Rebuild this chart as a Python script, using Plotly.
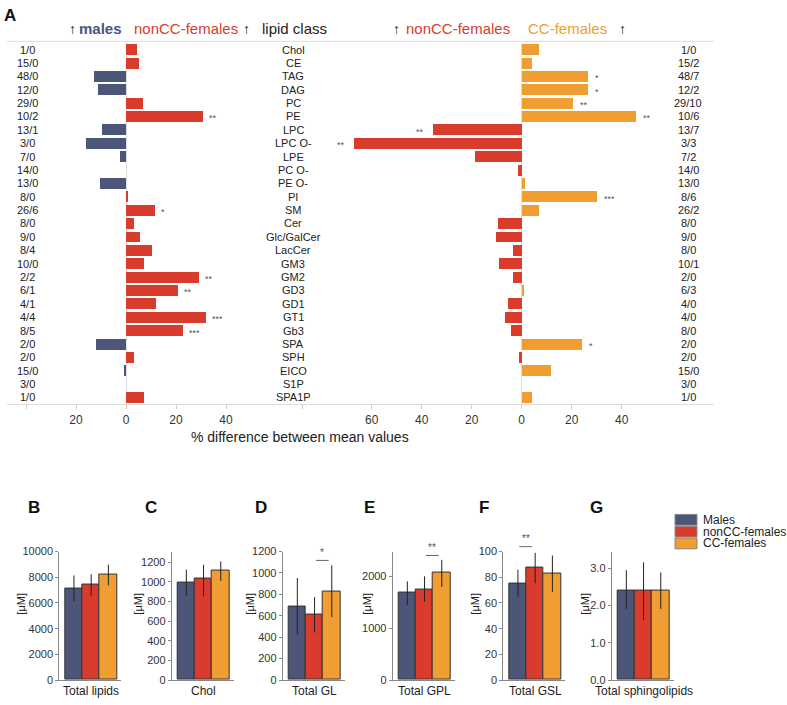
import plotly.graph_objects as go

W, H = 787, 705
def px(x): return x / W
def py(y): return 1 - y / H

C_M = "#4c5678"
C_N = "#d93c2c"
C_C = "#f09d32"
FONT = "Liberation Sans, Arial, sans-serif"

# ---------------- Panel A data ----------------
categories = ["Chol", "CE", "TAG", "DAG", "PC", "PE", "LPC", "LPC O-", "LPE", "PC O-", "PE O-", "PI", "SM",
              "Cer", "Glc/GalCer", "LacCer", "GM3", "GM2", "GD3", "GD1", "GT1", "Gb3", "SPA", "SPH", "EICO",
              "S1P", "SPA1P"]
left_counts = ["1/0", "15/0", "48/0", "12/0", "29/0", "10/2", "13/1", "3/0", "7/0", "14/0", "13/0", "8/0", "26/6",
               "8/0", "9/0", "8/4", "10/0", "2/2", "6/1", "4/1", "4/4", "8/5", "2/0", "2/0", "15/0", "3/0", "1/0"]
right_counts = ["1/0", "15/2", "48/7", "12/2", "29/10", "10/6", "13/7", "3/3", "7/2", "14/0", "13/0", "8/6", "26/2",
                "8/0", "9/0", "8/0", "10/1", "2/0", "6/3", "4/0", "4/0", "8/0", "2/0", "2/0", "15/0", "3/0", "1/0"]
# males vs nonCC-females: negative = males higher, positive = nonCC-females higher
left_diff = [4.4, 5.1, -12.7, -11.3, 6.7, 30.7, -9.7, -16.0, -2.3, 0, -10.5, 0.9, 11.6,
             3.3, 5.5, 10.3, 7.2, 29.3, 20.9, 11.9, 31.9, 22.8, -12.1, 3.1, -0.9, 0, 7.2]
left_sig = ["", "", "", "", "", "**", "", "", "", "", "", "", "*",
            "", "", "", "", "**", "**", "", "***", "***", "", "", "", "", ""]
# nonCC-females vs CC-females: negative = nonCC higher, positive = CC higher
right_diff = [7.1, 4.3, 26.7, 26.4, 20.7, 45.6, -35.5, -66.9, -18.8, -1.5, 1.3, 30.1, 7.1,
              -9.6, -10.1, -3.6, -9.1, -3.6, 0.8, -5.5, -6.5, -4.1, 24.3, -1.2, 11.6, 0, 4.3]
right_sig = ["", "", "*", "*", "**", "**", "**", "**", "", "", "", "***", "",
             "", "", "", "", "", "", "", "", "", "*", "", "", "", ""]

# ---------------- Panels B-G data ----------------
groups = ["Males", "nonCC-females", "CC-females"]
panel_letters = ["B", "C", "D", "E", "F", "G"]
panel_names = ["Total lipids", "Chol", "Total GL", "Total GPL", "Total GSL", "Total sphingolipids"]
means = [[7140, 7400, 8210], [988, 1032, 1113], [689, 609, 830],
         [1682, 1752, 2064], [75.3, 87.4, 82.8], [2.39, 2.39, 2.40]]
upper = [[8140, 8240, 8980], [1123, 1173, 1207], [952, 774, 1071],
         [1904, 2000, 2318], [85.9, 99.0, 96.9], [2.95, 3.16, 2.89]]
lower = [[6120, 6530, 7370], [854, 850, 1008], [422, 444, 588],
         [1446, 1510, 1796], [64.8, 75.3, 68.6], [1.91, 1.61, 1.91]]
y_max = [10000, 1307, 1200, 2478, 100, 3.45]
y_ticks = [[0, 2000, 4000, 6000, 8000, 10000], [0, 200, 400, 600, 800, 1000, 1200],
           [0, 200, 400, 600, 800, 1000, 1200], [0, 1000, 2000], [0, 20, 40, 60, 80, 100],
           [0.0, 1.0, 2.0, 3.0]]
sig_pairs = [None, None, (1, 2, "*"), (1, 2, "**"), (0, 1, "**"), None]

fig = go.Figure()

n = len(categories)
rows = list(range(n))

# ---- Panel A bars ----
fig.add_trace(go.Bar(
    x=left_diff, y=rows, orientation="h", xaxis="x", yaxis="y", width=0.82,
    marker=dict(color=[C_M if v < 0 else C_N for v in left_diff], line=dict(width=0)),
    showlegend=False, hoverinfo="skip"))
fig.add_trace(go.Bar(
    x=right_diff, y=rows, orientation="h", xaxis="x2", yaxis="y", width=0.82,
    marker=dict(color=[C_N if v < 0 else C_C for v in right_diff], line=dict(width=0)),
    showlegend=False, hoverinfo="skip"))

ann = []
for i in rows:
    ann.append(dict(x=px(27), y=i, xref="paper", yref="y", text=left_counts[i], showarrow=False,
                    font=dict(size=11, color="#222", family=FONT), xanchor="center"))
    ann.append(dict(x=px(293), y=i, xref="paper", yref="y", text=categories[i], showarrow=False,
                    font=dict(size=11, color="#222", family=FONT), xanchor="center"))
    ann.append(dict(x=px(688), y=i, xref="paper", yref="y", text=right_counts[i], showarrow=False,
                    font=dict(size=11, color="#222", family=FONT), xanchor="center"))
    if left_sig[i]:
        v = left_diff[i]
        ann.append(dict(x=v, y=i, xref="x", yref="y", text=left_sig[i], showarrow=False,
                        xanchor="left" if v >= 0 else "right", xshift=4 if v >= 0 else -4, yshift=-2,
                        font=dict(size=9, color="#555", family=FONT)))
    if right_sig[i]:
        v = right_diff[i]
        ann.append(dict(x=v, y=i, xref="x2", yref="y", text=right_sig[i], showarrow=False,
                        xanchor="left" if v >= 0 else "right", xshift=5 if v >= 0 else -7, yshift=-2,
                        font=dict(size=9, color="#555", family=FONT)))

# header
hy = py(23)
def head(x, text, color, bold=False, size=15):
    ann.append(dict(x=px(x), y=hy, xref="paper", yref="paper", text=("<b>%s</b>" % text) if bold else text,
                    showarrow=False, xanchor="center", yanchor="middle",
                    font=dict(size=size, color=color, family=FONT)))
head(72, "↑", "#222", size=14)
head(101, "males", "#4a5585", bold=True)
head(186, "nonCC-females", C_N)
head(246, "↑", "#222", size=14)
head(294, "lipid class", "#222")
head(396, "↑", "#222", size=14)
head(458, "nonCC-females", C_N)
head(567, "CC-females", C_C)
head(622, "↑", "#222", size=14)
ann.append(dict(x=px(2), y=py(10), xref="paper", yref="paper", text="<b>A</b>", showarrow=False,
                xanchor="left", yanchor="middle", font=dict(size=17, color="#111", family=FONT)))
ann.append(dict(x=px(300), y=py(438), xref="paper", yref="paper", text="% difference between mean values",
                showarrow=False, xanchor="center", yanchor="middle", font=dict(size=14, color="#222", family=FONT)))

shapes = [dict(type="line", xref="paper", yref="paper", x0=px(7), x1=px(714), y0=py(36), y1=py(36),
               line=dict(color="#dddddd", width=1))]

layout = dict(
    width=W, height=H, autosize=False, margin=dict(l=0, r=0, t=0, b=0),
    paper_bgcolor="white", plot_bgcolor="white", barmode="overlay", bargap=0,
    font=dict(family=FONT, color="#222"),
    yaxis=dict(domain=[py(405), py(37.5)], range=[n - 0.5, -0.5], visible=False, fixedrange=True),
    xaxis=dict(domain=[px(7), px(262)], anchor="y", range=[(7 - 126) / 2.5, (262 - 126) / 2.5],
               tickvals=[-40, -20, 0, 20, 40], ticktext=["", "20", "0", "20", "40"],
               ticks="outside", ticklen=4, tickcolor="#cccccc", showline=True, linecolor="#dddddd",
               showgrid=False, zeroline=True, zerolinecolor="#dddddd", zerolinewidth=1,
               tickfont=dict(size=12, color="#333")),
    xaxis2=dict(domain=[px(262), px(714)], anchor="y", range=[(262 - 521.7) / 2.5, (714 - 521.7) / 2.5],
                tickvals=[-87.5, -60, -40, -20, 0, 20, 40], ticktext=["", "60", "40", "20", "0", "20", "40"],
                ticks="outside", ticklen=4, tickcolor="#cccccc", showline=True, linecolor="#dddddd",
                showgrid=False, zeroline=True, zerolinecolor="#dddddd", zerolinewidth=1,
                tickfont=dict(size=12, color="#333")),
)

# ---- Panels B-G ----
axis_x0 = [59.3, 171.7, 282.7, 392.7, 503.3, 611.7]
y_title_x = [21, 138, 250, 367, 475, 585]
colors = [C_M, C_N, C_C]
for k in range(6):
    xa = "x%d" % (k + 3)
    ya = "y%d" % (k + 2)
    m = means[k]
    fig.add_trace(go.Bar(
        x=[0, 1, 2], y=m, xaxis=xa, yaxis=ya, width=1.0,
        marker=dict(color=colors, line=dict(color="#333333", width=1)),
        error_y=dict(type="data", symmetric=False,
                     array=[u - v for u, v in zip(upper[k], m)],
                     arrayminus=[v - l for v, l in zip(m, lower[k])],
                     color="#222222", thickness=1, width=0),
        showlegend=False, hoverinfo="skip"))
    x0 = axis_x0[k]
    layout["xaxis%d" % (k + 3)] = dict(
        domain=[px(x0), px(x0 + 62)], anchor=ya, range=[-0.85, 2.75], showticklabels=False, ticks="",
        showline=True, linecolor="#888888", linewidth=1, showgrid=False, zeroline=False, fixedrange=True)
    fmt = ".1f" if k == 5 else "d"
    layout["yaxis%d" % (k + 2)] = dict(
        domain=[py(685.7), py(555)], anchor=xa, range=[0, y_max[k]], tickvals=y_ticks[k],
        tickformat=fmt, ticks="outside", ticklen=3, tickcolor="#888888", showline=True,
        linecolor="#888888", linewidth=1, showgrid=False, zeroline=False,
        tickfont=dict(size=11, color="#333", family=FONT))
    ann.append(dict(x=1, y=py(697), xref=xa, yref="paper", text=panel_names[k], showarrow=False,
                    xanchor="center", yanchor="middle", font=dict(size=12, color="#222", family=FONT)))
    ann.append(dict(x=px(y_title_x[k]), y=py(608), xref="paper", yref="paper", text="[μM]", textangle=-90,
                    showarrow=False, xanchor="center", yanchor="middle", font=dict(size=11, color="#222", family=FONT)))
    lx = [26, 143, 253, 362, 477, 588][k]
    ann.append(dict(x=px(lx), y=py(510), xref="paper", yref="paper", text="<b>%s</b>" % panel_letters[k],
                    showarrow=False, xanchor="left", yanchor="middle", font=dict(size=17, color="#111", family=FONT)))
    sp = sig_pairs[k]
    if sp:
        a, b, s = sp
        ly = {2: 564, 3: 559, 4: 550}[k]
        c = a + 0.45
        fig_x0 = c - 0.37
        fig_x1 = c + 0.37
        shapes.append(dict(type="line", xref=xa, yref="paper", x0=fig_x0, x1=fig_x1, y0=py(ly), y1=py(ly),
                           line=dict(color="#666666", width=1)))
        ann.append(dict(x=c, y=py(ly - 0.5), xref=xa, yref="paper", text=s, showarrow=False,
                        xanchor="center", yanchor="bottom", font=dict(size=10, color="#555", family=FONT)))

# legend key
for j, (g, c) in enumerate(zip(groups, colors)):
    yc = 522.7 + j * 12
    shapes.append(dict(type="rect", xref="paper", yref="paper", x0=px(675), x1=px(697),
                       y0=py(yc + 5.5), y1=py(yc - 5.5), fillcolor=c, line=dict(color="#888888", width=1)))
    ann.append(dict(x=px(701), y=py(yc), xref="paper", yref="paper", text=g, showarrow=False,
                    xanchor="left", yanchor="middle", font=dict(size=12, color="#222", family=FONT)))

layout["annotations"] = ann
layout["shapes"] = shapes
fig.update_layout(**layout)
post = ("document.documentElement.style.margin='0';document.body.style.margin='0';"
        "document.body.style.padding='0';document.body.style.overflow='hidden';"
        "var gd=document.getElementById('{plot_id}');gd.style.position='fixed';"
        "gd.style.top='0px';gd.style.left='0px';")
fig.write_html("out.html", config={"displayModeBar": False}, post_script=post)
